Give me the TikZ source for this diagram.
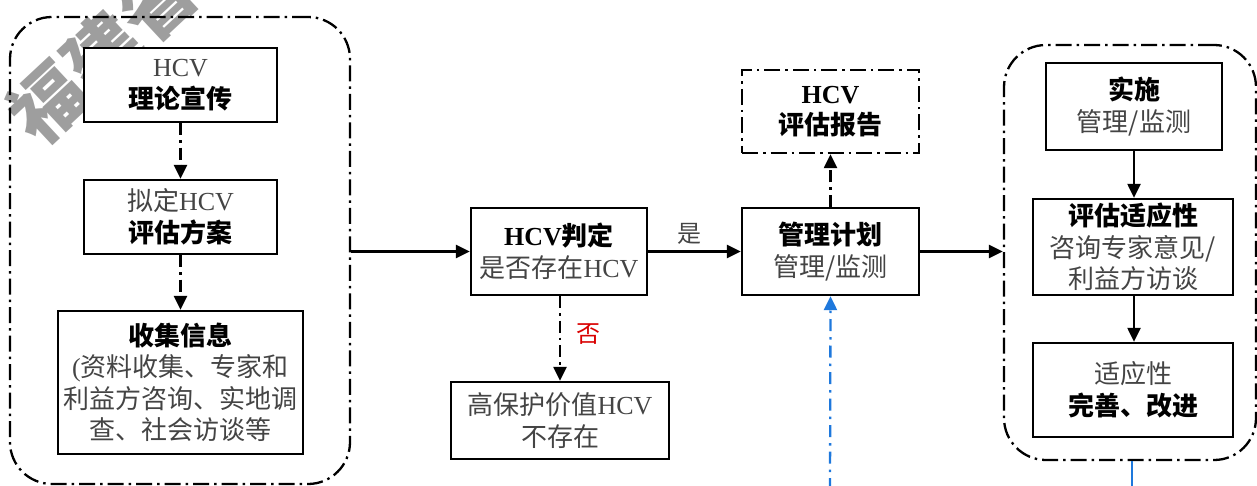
\documentclass[tikz,border=0pt]{standalone}
\usepackage{fontspec}
\setmainfont{Liberation Serif}
\newfontfamily\cjk{Noto Sans CJK SC}
\newfontfamily\lat{Liberation Serif}
\usetikzlibrary{arrows.meta}
\definecolor{txtgray}{HTML}{444444}
\definecolor{flowblue}{HTML}{1E78DC}
\tikzset{
  box/.style={draw, line width=2.3pt, inner sep=0pt, align=center,
    font=\cjk\fontsize{26}{31.5}\selectfont, text=txtgray},
  dashdot/.style={dash pattern=on 16pt off 5pt on 2.5pt off 5pt},
  container/.style={draw, line width=2.3pt, dashdot, inner sep=0pt, rounded corners=42pt},
  arr/.style={line width=2.3pt, -{Triangle[length=14pt,width=13pt]}},
  darr/.style={arr, dash pattern=on 12pt off 5pt on 2.5pt off 5pt},
  barr/.style={arr, flowblue, dash pattern=on 12pt off 6pt on 2.5pt off 6pt}
}
\newcommand\hb[1]{{\bfseries\color{black}#1}}
\begin{document}
\begin{tikzpicture}[x=1pt,y=-1pt]
\useasboundingbox (0,0) rectangle (1257,486);
\begin{scope}
\clip (0,0) rectangle (1257,486);
% watermark
\node[rotate=43, text=black!38, font=\cjk\bfseries\fontsize{74}{74}\selectfont, inner sep=0pt] (wm) at (102,52) {福建省};

% left container
\node[container, minimum width=340pt, minimum height=467pt] (L) at (180,250.5) {};
\node[box, fill=white, minimum width=193pt, minimum height=74pt] (b1) at (180.5,85) {{\lat HCV}\\\hb{理论宣传}};
\node[box, minimum width=193pt, minimum height=74pt] (b2) at (180.5,217) {拟定{\lat HCV}\\\hb{评估方案}};
\node[box, minimum width=245pt, minimum height=143pt] (b3) at (180.5,382.5) {\hb{收集信息}\\{\lat(}资料收集、专家和\\利益方咨询、实地调\\查、社会访谈等};
\draw[darr] (b1) -- (b2);
\draw[darr] (b2) -- (b3);

% middle
\node[box, minimum width=176pt, minimum height=87pt] (J) at (559,251.5) {\hb{{\lat HCV}判定}\\是否存在{\lat HCV}};
\node[box, minimum width=218pt, minimum height=77pt] (N) at (560,420.5) {高保护价值{\lat HCV}\\不存在};
\node[box, minimum width=177pt, minimum height=87pt] (M) at (830.5,251.5) {\hb{管理计划}\\管理/监测};
\node[box, dashdot, minimum width=177pt, minimum height=83pt] (R0) at (830.5,111.5) {\hb{{\lat HCV}}\\\hb{评估报告}};

\draw[arr] (J.west -| L.east) -- (J.west);
\draw[arr] (J) -- node[above, pos=0.45, yshift=3pt, font=\cjk\fontsize{24}{24}\selectfont, text=txtgray] (yes) {是} (M);
\draw[darr] (J.south -| N.north) -- node[right, pos=0.45, xshift=12pt, font=\cjk\fontsize{24}{24}\selectfont, text=red!85!black] (no) {否} (N.north);
\draw[darr] (M) -- (R0);

% right container
\node[container, minimum width=252pt, minimum height=415pt] (R) at (1130,252.5) {};
\node[box, minimum width=176pt, minimum height=87pt] (r1) at (1134,106.5) {\hb{实施}\\管理/监测};
\node[box, minimum width=200pt, minimum height=96pt] (r2) at (1133,247) {\hb{评估适应性}\\咨询专家意见/\\利益方访谈};
\node[box, minimum width=200pt, minimum height=94pt] (r3) at (1133,390) {适应性\\\hb{完善、改进}};
\draw[arr] (M.east) -- (M.east -| R.west);
\draw[arr] (r1.south -| 1134,0) -- (r2.north -| 1134,0);
\draw[arr] (r2.south -| 1134,0) -- (r3.north -| 1134,0);

% blue feedback
\coordinate (bb1) at (830,490);
\coordinate (bb2) at (1132,490);
\draw[barr] (bb1) -- (M.south);
\draw[line width=2.3pt, flowblue] (R.south -| bb2) -- (bb2);
\end{scope}
\end{tikzpicture}
\end{document}
